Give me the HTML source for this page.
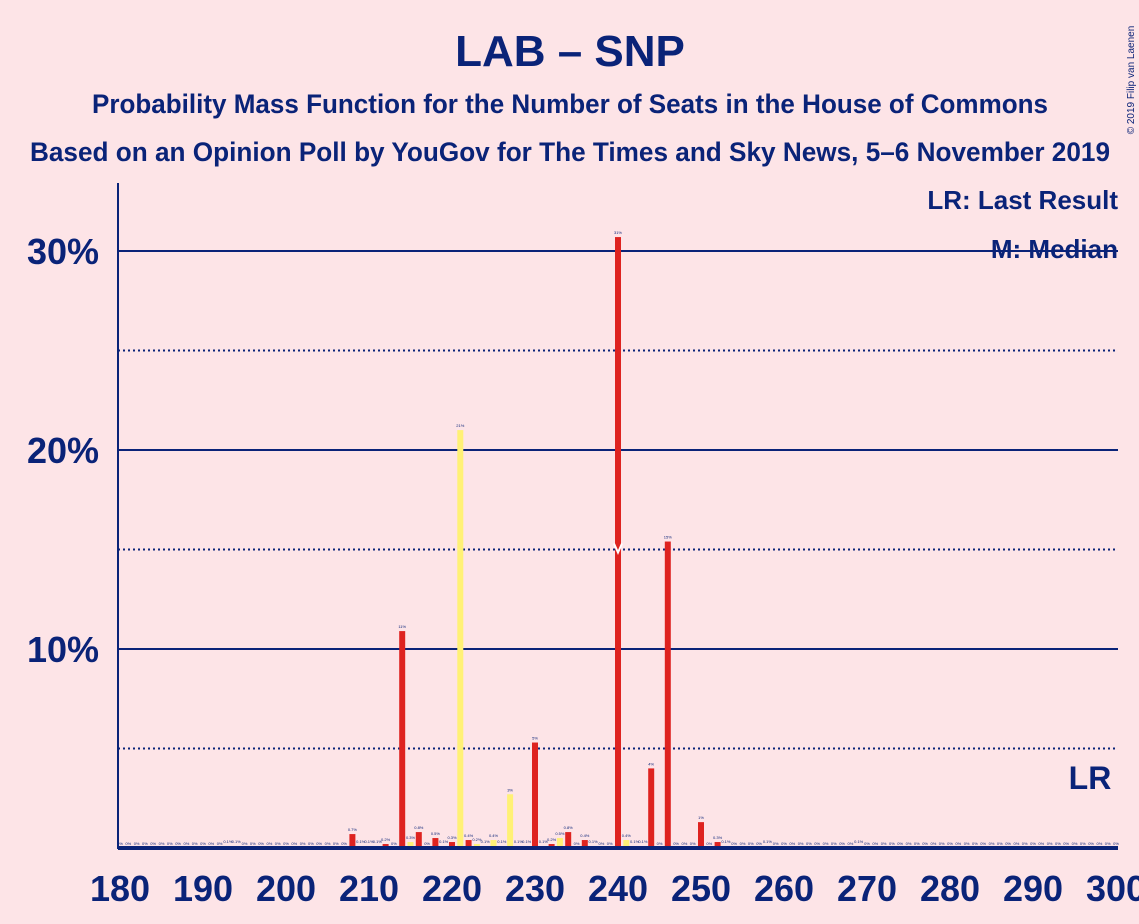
<!DOCTYPE html>
<html><head><meta charset="utf-8"><style>
body{margin:0;background:#fde4e7;}
svg{display:block;font-family:"Liberation Sans",sans-serif;}
</style></head><body>
<svg id="chart" width="1139" height="924" viewBox="0 0 1139 924">
<rect width="1139" height="924" fill="#fde4e7"/>
<text x="570" y="66" text-anchor="middle" font-size="44" font-weight="bold" fill="#0a2378">LAB – SNP</text>
<text x="570" y="113" text-anchor="middle" font-size="27" font-weight="bold" fill="#0a2378" textLength="956" lengthAdjust="spacingAndGlyphs">Probability Mass Function for the Number of Seats in the House of Commons</text>
<text x="570" y="161" text-anchor="middle" font-size="27" font-weight="bold" fill="#0a2378" textLength="1080" lengthAdjust="spacingAndGlyphs">Based on an Opinion Poll by YouGov for The Times and Sky News, 5–6 November 2019</text>
<text x="1134" y="80" font-size="10" fill="#0a2378" transform="rotate(-90 1134 80)" text-anchor="middle">© 2019 Filip van Laenen</text>
<g id="grid"></g>
<g id="bars"></g>
<g id="xaxis"></g>
<text x="1118" y="209" text-anchor="end" font-size="26" font-weight="bold" fill="#0a2378">LR: Last Result</text>
<text x="1118" y="258" text-anchor="end" font-size="26" font-weight="bold" fill="#0a2378">M: Median</text>
<text x="1090" y="789" text-anchor="middle" font-size="32" font-weight="bold" fill="#0a2378">LR</text>
</svg>
<script>
const seats=[];for(let s=180;s<=300;s++)seats.push(s);
const values={208:0.7,209:0.1,210:0.1,211:0.1,212:0.2,214:10.9,215:0.3,216:0.8,218:0.5,219:0.1,220:0.3,221:21.0,222:0.4,223:0.2,224:0.1,225:0.4,226:0.1,227:2.7,228:0.1,229:0.1,230:5.3,231:0.1,232:0.2,233:0.5,234:0.8,236:0.4,237:0.1,240:30.7,241:0.4,242:0.1,243:0.1,244:4.0,246:15.4,250:1.3,252:0.3,253:0.1,258:0.1,269:0.1,193:0.1,194:0.1};
const yellowSeats=[215,221,223,225,227,233,241,269];
const medianSeat=240;
const yTicks=[10,20,30];
const yDotted=[5,15,25];
const xTicks=[180,190,200,210,220,230,240,250,260,270,280,290,300];
const X=s=>120+(s-180)*8.3;
const Y=v=>848-v*19.9;
const NS="http://www.w3.org/2000/svg";
function mk(t,a,p){const e=document.createElementNS(NS,t);for(const k in a)e.setAttribute(k,a[k]);p.appendChild(e);return e;}
const grid=document.getElementById('grid'),bars=document.getElementById('bars'),xa=document.getElementById('xaxis');
yDotted.forEach(v=>{const l=mk('line',{x1:118,x2:1118,y1:Y(v),y2:Y(v),stroke:'#0a2378','stroke-width':2,'stroke-dasharray':'2,3'},grid);

});
yTicks.forEach(v=>{const l=mk('line',{x1:118,x2:1118,y1:Y(v),y2:Y(v),stroke:'#0a2378','stroke-width':2},grid);


const t=mk('text',{x:99,y:Y(v)+13,'text-anchor':'end','font-size':36,'font-weight':'bold',fill:'#0a2378'},grid);t.textContent=v+'%';

});
seats.forEach(s=>{const v=values[s]||0;const yel=yellowSeats.includes(s);
if(v>0){const r=mk('rect',{x:X(s)-3,y:Y(v),width:6,height:848-Y(v),fill:yel?'#fff176':'#de2320'},bars);

}
const t=mk('text',{x:X(s),y:Y(v)-3,'text-anchor':'middle','font-size':4,fill:'#0a2378'},bars);
t.textContent=(v>=1?Math.round(v):v)+'%';

});
const m=mk('polyline',{points:`${X(medianSeat)-4},${Y(15)-6} ${X(medianSeat)},${Y(15)+3} ${X(medianSeat)+4},${Y(15)-6}`,fill:'none',stroke:'#fff','stroke-width':2},bars);


const ya=mk('line',{x1:118,x2:118,y1:183,y2:849,stroke:'#0a2378','stroke-width':2},xa);


const xl=mk('line',{x1:118,x2:1118,y1:848,y2:848,stroke:'#0a2378','stroke-width':4},xa);


xTicks.forEach(s=>{const t=mk('text',{x:X(s),y:901,'text-anchor':'middle','font-size':36,'font-weight':'bold',fill:'#0a2378'},xa);t.textContent=s;

});
</script>
</body></html>
